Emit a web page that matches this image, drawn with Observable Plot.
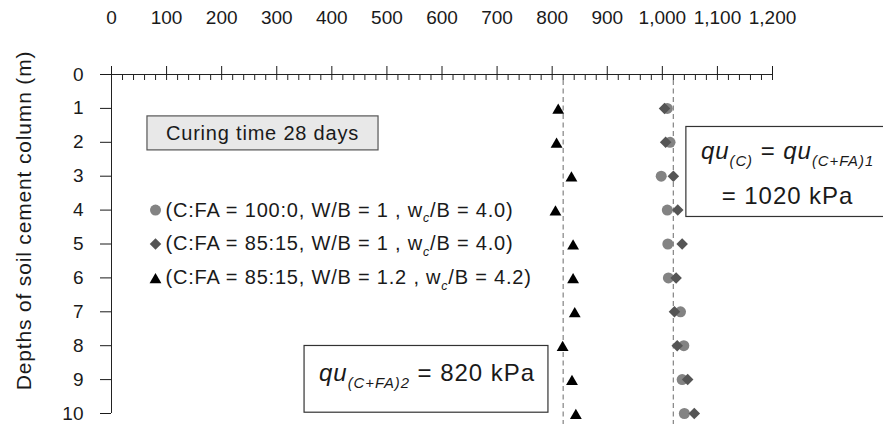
<!DOCTYPE html>
<html>
<head>
<meta charset="utf-8">
<script src="https://cdn.jsdelivr.net/npm/d3@7"></script>
<script src="https://cdn.jsdelivr.net/npm/@observablehq/plot@0.6"></script>
<style>
html, body { margin: 0; padding: 0; background: #fff; }
#chart svg { display: block; font-family: "Liberation Sans", Arial, Helvetica, sans-serif; }
#chart svg text { letter-spacing: 0.04em; }
#chart svg g[aria-label$="tick label"] text { letter-spacing: 0; }
</style>
</head>
<body>
<div id="chart"></div>
<script>
// ---- data ----
const depths = [1, 2, 3, 4, 5, 6, 7, 8, 9, 10];
const quC     = [1009, 1014, 998, 1009, 1010, 1011, 1033, 1039, 1036, 1040];   // C:FA = 100:0
const quCFA1  = [1004, 1006, 1020, 1028, 1036, 1025, 1022, 1027, 1046, 1058];  // C:FA = 85:15, W/B = 1
const quCFA2  = [811, 808, 835, 806, 838, 838, 841, 819, 836, 843];            // C:FA = 85:15, W/B = 1.2
const seriesLabels = [
  "(C:FA = 100:0, W/B = 1 , w_c/B = 4.0)",
  "(C:FA = 85:15, W/B = 1 , w_c/B = 4.0)",
  "(C:FA = 85:15, W/B = 1.2 , w_c/B = 4.2)"
];
const referenceLines = [820, 1020];
const xTicks = d3.range(0, 1201, 100);
const xMinorTicks = d3.range(0, 1201, 20);
const yTicks = d3.range(0, 11);
const yLabel = "Depths of soil cement column (m)";
const curingNote = "Curing time 28 days";
const note820 = "*qu*_{(C+FA)2} = 820 kPa";
const note1020 = ["*qu*_{(C)} = *qu*_{(C+FA)1}", "= 1020 kPa"];

const rowsC = depths.map((d, i) => ({depth: d, qu: quC[i]}));
const rowsCFA1 = depths.map((d, i) => ({depth: d, qu: quCFA1[i]}));
const rowsCFA2 = depths.map((d, i) => ({depth: d, qu: quCFA2[i]}));

const ink = "#1a1a1a";
const centered = {frameAnchor: "top-left", textAnchor: "middle", lineAnchor: "middle", fill: ink};
const legendStyles = [
  {symbol: "circle", fill: "#838383", r: 5.5, ddy: 0},
  {symbol: "diamond2", fill: "#555555", r: 5.2, ddy: 0},
  {symbol: "triangle", fill: "#000000", r: 4.4, ddy: 2}
];
const legendMarks = [];
seriesLabels.forEach((lab, i) => {
  const s = legendStyles[i];
  legendMarks.push(Plot.dot([lab], {frameAnchor: "top-left", dx: 44, dy: 135.6 + 33.9 * i + s.ddy, r: s.r, symbol: s.symbol, fill: s.fill}));
  legendMarks.push(Plot.text([lab], {...centered, textAnchor: "start", dx: 54, dy: 135.6 + 33.9 * i, fontSize: 20}));
});

const plot = Plot.plot({
  width: 883,
  height: 424,
  marginTop: 74,
  marginBottom: 11,
  marginLeft: 111,
  marginRight: 111,
  x: {domain: [0, 1200], label: null},
  y: {domain: [0, 10], reverse: true, label: null},
  style: {color: ink, background: "white", overflow: "visible"},
  marks: [
    Plot.ruleX(referenceLines, {stroke: "#8c8c8c", strokeWidth: 1.3, strokeDasharray: "5,3.5", insetTop: 6, insetBottom: -11}),
    Plot.ruleY([0], {stroke: "#222", insetLeft: -11}),
    Plot.ruleX([0], {stroke: "#222"}),
    Plot.ruleX(xMinorTicks, {stroke: "#222", insetBottom: 333}),
    Plot.axisX({anchor: "top", ticks: xTicks, tickSize: 9, tickPadding: 42, tickFormat: d3.format(","), fontSize: 19, label: null}),
    Plot.axisY({anchor: "left", ticks: yTicks, tickSize: 11, tickPadding: 17, fontSize: 19, label: null}),
    Plot.text([yLabel], {...centered, dx: -87, dy: 146, rotate: -90, fontSize: 21}),
    Plot.text([curingNote], {...centered, dx: 151, dy: 59, fontSize: 20}),
    Plot.text([note820], {...centered, dx: 315.5, dy: 299.3, fontSize: 24}),
    Plot.text([note1020[0]], {...centered, dx: 676, dy: 77.3, fontSize: 24}),
    Plot.text([note1020[1]], {...centered, dx: 676, dy: 122.3, fontSize: 24}),
    ...legendMarks,
    Plot.dot(rowsC, {x: "qu", y: "depth", r: 5.5, symbol: "circle", fill: "#838383"}),
    Plot.dot(rowsCFA1, {x: "qu", y: "depth", r: 5.2, symbol: "diamond2", fill: "#555555"}),
    Plot.dot(rowsCFA2, {x: "qu", y: "depth", r: 4.4, symbol: "triangle", fill: "#000000", dy: 2})
  ]
});
document.getElementById("chart").append(plot);

// ---- rich text (italic, subscripts) and annotation boxes ----
const NS = "http://www.w3.org/2000/svg";
const allTexts = Array.from(plot.querySelectorAll("text"));
const find = (s) => allTexts.filter(t => t.textContent === s);
const curingEls = find(curingNote);
const el820 = find(note820);
const el1020 = [...find(note1020[0]), ...find(note1020[1])];

function richify(el) {
  const s = el.textContent;
  if (!/[*_]/.test(s)) return;
  const fs = parseFloat(getComputedStyle(el).fontSize) || 16;
  const parts = s.split(/(\*[^*]+\*|_\{[^}]+\}|_[a-z])/).filter(Boolean);
  el.textContent = "";
  let shifted = 0;
  for (const p of parts) {
    const t = document.createElementNS(NS, "tspan");
    if (p.startsWith("_")) {
      const inner = p.startsWith("_{") ? p.slice(2, -1) : p.slice(1);
      t.textContent = inner;
      t.setAttribute("font-size", (fs * 0.62).toFixed(2));
      t.setAttribute("font-style", "italic");
      const sh = fs * 0.28;
      t.setAttribute("dy", (sh - shifted).toFixed(2));
      shifted = sh;
    } else {
      if (p.startsWith("*")) { t.textContent = p.slice(1, -1); t.setAttribute("font-style", "italic"); }
      else t.textContent = p;
      if (shifted) { t.setAttribute("dy", (-shifted).toFixed(2)); shifted = 0; }
    }
    el.appendChild(t);
  }
}
allTexts.forEach(richify);

function boxAround(els, pad, fill, stroke, sw) {
  if (!els.length) return;
  const svgRect = plot.getBoundingClientRect();
  let x0 = Infinity, y0 = Infinity, x1 = -Infinity, y1 = -Infinity;
  for (const e of els) {
    const b = e.getBoundingClientRect();
    x0 = Math.min(x0, b.left - svgRect.left); y0 = Math.min(y0, b.top - svgRect.top);
    x1 = Math.max(x1, b.right - svgRect.left); y1 = Math.max(y1, b.bottom - svgRect.top);
  }
  const [pt, pr, pb, pl] = pad;
  const r = document.createElementNS(NS, "rect");
  r.setAttribute("x", x0 - pl); r.setAttribute("y", y0 - pt);
  r.setAttribute("width", x1 - x0 + pl + pr); r.setAttribute("height", y1 - y0 + pt + pb);
  r.setAttribute("fill", fill); r.setAttribute("stroke", stroke); r.setAttribute("stroke-width", sw);
  const g = els[0].parentNode;
  g.parentNode.insertBefore(r, g);
}
boxAround(curingEls, [6, 19, 6, 19], "#e8e8e8", "#555", 1.2);
boxAround(el820, [14, 13, 21, 15], "#fff", "#333", 1.2);
boxAround(el1020, [11, 10, 7, 15], "#fff", "#333", 1.2);
</script>
</body>
</html>
